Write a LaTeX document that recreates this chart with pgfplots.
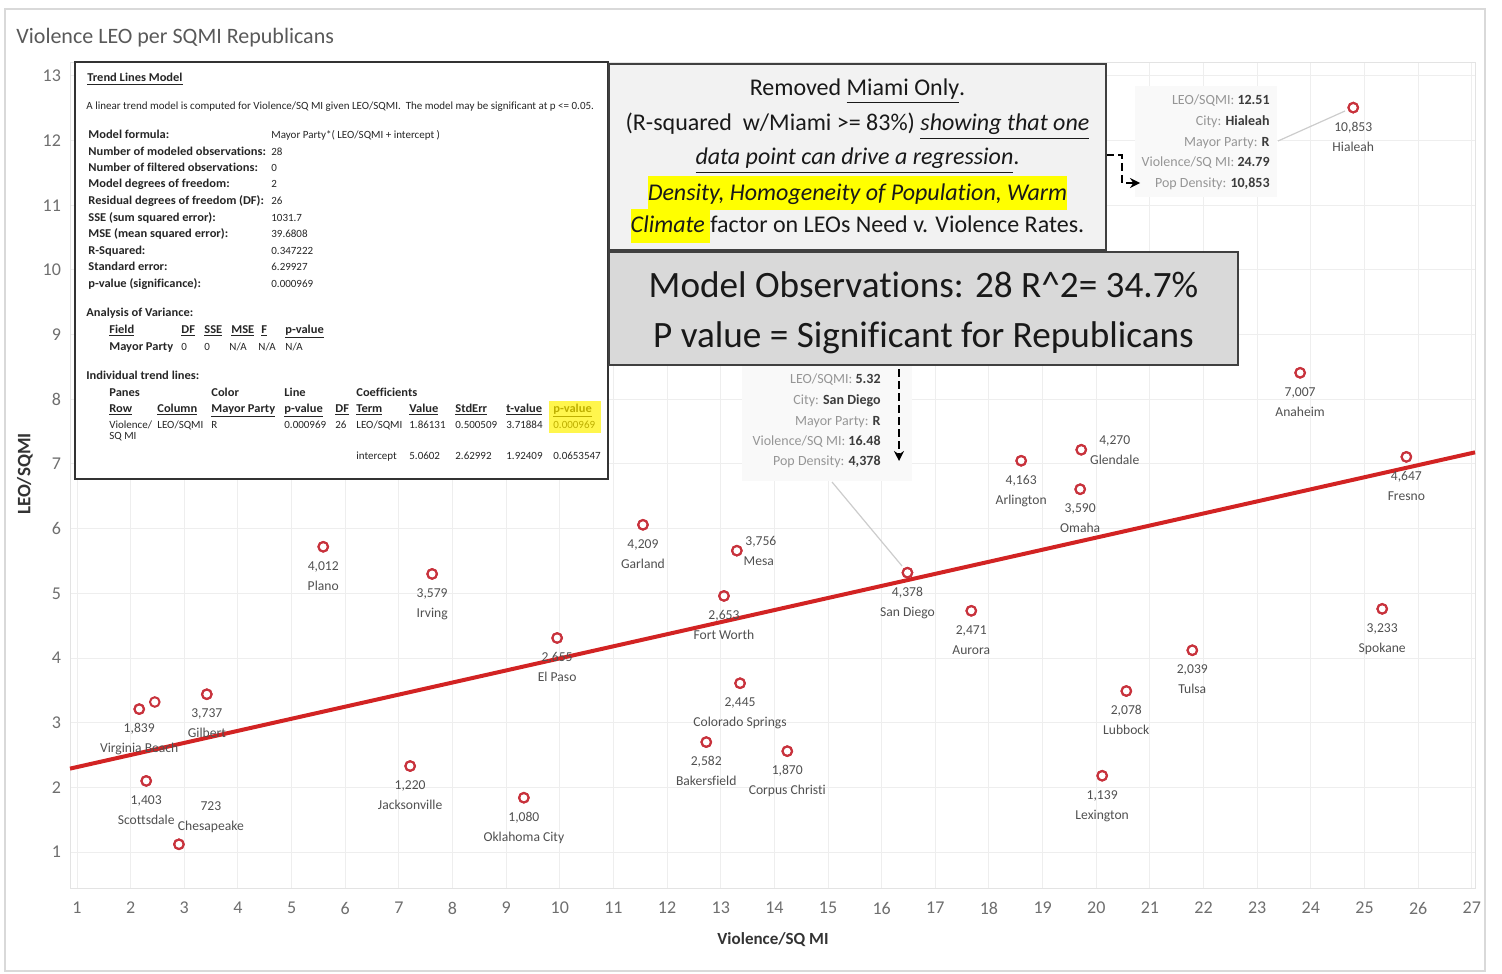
\documentclass[border=0pt]{standalone}
\usepackage{fontspec}
\setmainfont{Carlito}[Ligatures=NoCommon]
\usepackage{pgfplots}
\pgfplotsset{compat=1.18}
\usepackage{pgfplotstable}
\usetikzlibrary{arrows.meta}
\definecolor{ptred}{RGB}{200,50,60}
\definecolor{trend}{RGB}{210,35,35}
\definecolor{tickgray}{RGB}{110,110,110}
\definecolor{lblgray}{RGB}{80,80,80}
\definecolor{tipgray}{RGB}{150,150,150}
\definecolor{tipdark}{RGB}{60,60,60}
\definecolor{hl}{RGB}{255,255,0}
\definecolor{pvcol}{RGB}{190,175,0}
\definecolor{boxa}{RGB}{242,242,242}
\definecolor{boxb}{RGB}{217,217,217}
\newcommand\tbf{\fontsize{5.5}{6.5}\selectfont}
\newcommand{\T}[3]{\node[anchor=base west,inner sep=0pt,font=\tbf,text=black!85] at (#1,#2) {#3};}
\newcommand{\B}[1]{\scalebox{1.04}[1]{\fontsize{6}{7}\selectfont\bfseries #1}}
\newcommand{\tip}[4]{\node[anchor=base east,inner sep=0pt,font=\fontsize{7}{8}\selectfont] at (#1,#2) {\textcolor{tipgray}{#3} \textcolor{tipdark}{\textbf{#4}}};}

% cities labelled below the point
\pgfplotstableread{
x y dens city
24.79 12.51 10,853 Hialeah
16.48 5.32 4,378 {San Diego}
23.80 8.41 7,007 Anaheim
25.78 7.11 4,647 Fresno
18.60 7.05 4,163 Arlington
19.70 6.61 3,590 Omaha
11.55 6.06 4,209 Garland
5.59 5.72 4,012 Plano
7.62 5.30 3,579 Irving
13.06 4.96 2,653 {Fort Worth}
17.67 4.73 2,471 Aurora
9.95 4.31 2,655 {El Paso}
25.33 4.76 3,233 Spokane
21.79 4.12 2,039 Tulsa
20.56 3.49 2,078 Lubbock
13.36 3.61 2,445 {Colorado Springs}
12.73 2.70 2,582 Bakersfield
14.24 2.56 1,870 {Corpus Christi}
20.11 2.18 1,139 Lexington
9.33 1.84 1,080 {Oklahoma City}
7.21 2.33 1,220 Jacksonville
2.16 3.21 1,839 {Virginia Beach}
3.42 3.44 3,737 Gilbert
2.29 2.10 1,403 Scottsdale
}\belowdata
% labelled to the right
\pgfplotstableread{
x y dens city
19.72 7.22 4,270 Glendale
}\glendata
\pgfplotstableread{
x y dens city
13.30 5.66 3,756 Mesa
}\mesadata
% labelled above-right
\pgfplotstableread{
x y dens city
2.90 1.12 723 Chesapeake
}\chesdata
% unlabelled point
\pgfplotstableread{
x y
2.45 3.32
}\nolabdata

\pgfplotsset{
  citypts/.style={only marks, mark=o, mark size=2.4pt, mark options={line width=1pt, draw=ptred}},
  citylab/.style={only marks, mark=o, mark size=2.4pt, mark options={line width=1pt, draw=ptred},
    point meta=explicit symbolic, nodes near coords,
    every node near coord/.append style={anchor=base, inner sep=0pt, font=\fontsize{6.8}{8}\selectfont, text=lblgray}},
}

\begin{document}
\begin{tikzpicture}
\path[use as bounding box] (0pt,0pt) rectangle (751pt,-486.5pt);
\begin{axis}[
  at={(35pt,-444pt)}, anchor=south west,
  scale only axis, width=702.5pt, height=412.5pt,
  xmin=0.8695, xmax=27.06, ymin=0.444, ymax=13.2,
  xtick={1,...,27}, ytick={1,...,13},
  grid=major, major grid style={draw=gray!13, line width=0.5pt},
  axis line style={draw=gray!22, line width=0.5pt},
  major tick length=0pt,
  /pgf/number format/assume math mode=true,
  ticklabel style={font=\fontsize{9}{9}\selectfont, text=tickgray},
  xticklabel style={yshift=-3.5pt},
  yticklabel style={xshift=-1pt},
  clip=false,
]
\addplot[trend, line width=2pt] coordinates {(0.87,2.29) (27.06,7.18)};
% below-labelled
\addplot[citylab, every node near coord/.append style={yshift=-11.8pt}] table[x=x,y=y,meta=dens] {\belowdata};
\addplot[citylab, every node near coord/.append style={yshift=-21.8pt}] table[x=x,y=y,meta=city] {\belowdata};
% right-labelled
\addplot[citylab, every node near coord/.append style={xshift=16.75pt, yshift=2.7pt}] table[x=x,y=y,meta=dens] {\glendata};
\addplot[citylab, every node near coord/.append style={xshift=16.75pt, yshift=-7.3pt}] table[x=x,y=y,meta=city] {\glendata};
\addplot[citylab, every node near coord/.append style={xshift=12pt, yshift=2.7pt}] table[x=x,y=y,meta=dens] {\mesadata};
\addplot[citylab, every node near coord/.append style={xshift=11pt, yshift=-7.3pt}] table[x=x,y=y,meta=city] {\mesadata};
% above-right
\addplot[citylab, every node near coord/.append style={xshift=16pt, yshift=16.7pt}] table[x=x,y=y,meta=dens] {\chesdata};
\addplot[citylab, every node near coord/.append style={xshift=16pt, yshift=6.7pt}] table[x=x,y=y,meta=city] {\chesdata};
\addplot[citypts] table[x=x,y=y] {\nolabdata};
\end{axis}

\begin{scope}[x=0.5pt,y=-0.5pt]
\draw[gray!30, line width=0.6pt] (5,9) rectangle (1485,971);
\node[anchor=west, inner sep=0pt, text=black!65, font=\fontsize{11}{13}\selectfont] at (16,38) {Violence LEO per SQMI Republicans};
\node[rotate=90, text=black!80, font=\fontsize{9.5}{10}\selectfont\bfseries] at (25,474) {LEO/SQMI};
\node[text=black!80, font=\fontsize{8.5}{10}\selectfont\bfseries] at (773,940) {Violence/SQ MI};

% tooltips
\fill[gray!5] (1135,86) rectangle (1277,197);
\draw[gray!40, line width=0.6pt] (1278,141) -- (1345,111);
\tip{1270}{104.5}{LEO/SQMI:}{12.51}
\tip{1270}{125.5}{City:}{Hialeah}
\tip{1270}{146.5}{Mayor Party:}{R}
\tip{1270}{166.5}{Violence/SQ MI:}{24.79}
\tip{1270}{187.5}{Pop Density:}{10,853}
\fill[gray!5] (742,366) rectangle (912,481);
\draw[gray!40, line width=0.6pt] (832,482) -- (902,566);
\tip{881}{383.5}{LEO/SQMI:}{5.32}
\tip{881}{404.5}{City:}{San Diego}
\tip{881}{425.5}{Mayor Party:}{R}
\tip{881}{445.5}{Violence/SQ MI:}{16.48}
\tip{881}{465.5}{Pop Density:}{4,378}

% dashed arrows
\draw[black, line width=1.1pt, dash pattern=on 4pt off 2pt, -{Stealth[length=5pt,width=5pt]}] (1106,155) -- (1122,155) -- (1122,183) -- (1140,183);
\draw[black, line width=1.1pt, dash pattern=on 4pt off 2pt, -{Stealth[length=5pt,width=5pt]}] (899,369) -- (899,461);

% trend model box
\draw[fill=white, draw=black!80, line width=0.8pt] (75,62) rectangle (608,479);
\fill[yellow!70] (549,401) rectangle (601,433);
\node[anchor=base west,inner sep=0pt,text=black!85] at (87,82) {\B{\underline{Trend Lines Model}}};
\T{86}{110}{A linear trend model is computed for Violence/SQ MI given LEO/SQMI.\ \ The model may be significant at p <= 0.05.}
\T{88}{139}{\B{Model formula:}}\T{271}{139}{Mayor Party*( LEO/SQMI + intercept )}
\T{88}{156}{\B{Number of modeled observations:}}\T{271}{156}{28}
\T{88}{172}{\B{Number of filtered observations:}}\T{271}{172}{0}
\T{88}{188}{\B{Model degrees of freedom:}}\T{271}{188}{2}
\T{88}{205}{\B{Residual degrees of freedom (DF):}}\T{271}{205}{26}
\T{88}{221}{\B{SSE (sum squared error):}}\T{271}{221}{1031.7}
\T{88}{237}{\B{MSE (mean squared error):}}\T{271}{237}{39.6808}
\T{88}{254}{\B{R-Squared:}}\T{271}{254}{0.347222}
\T{88}{270}{\B{Standard error:}}\T{271}{270}{6.29927}
\T{88}{287}{\B{p-value (significance):}}\T{271}{287}{0.000969}
\T{86}{316}{\B{Analysis of Variance:}}
\T{109}{333}{\B{\underline{Field}}}\T{181}{333}{\B{\underline{DF}}}\T{204}{333}{\B{\underline{SSE}}}\T{231}{333}{\B{\underline{MSE}}}\T{261}{333}{\B{\underline{F}}}\T{285}{333}{\B{\underline{p-value}}}
\T{109}{350}{\B{Mayor Party}}\T{181}{350}{0}\T{204}{350}{0}\T{229}{350}{N/A}\T{258}{350}{N/A}\T{285}{350}{N/A}
\T{86}{379}{\B{Individual trend lines:}}
\T{109}{396}{\B{Panes}}\T{211}{396}{\B{Color}}\T{284}{396}{\B{Line}}\T{356}{396}{\B{Coefficients}}
\T{109}{412}{\B{\underline{Row}}}\T{157}{412}{\B{\underline{Column}}}\T{211}{412}{\B{\underline{Mayor Party}}}\T{284}{412}{\B{\underline{p-value}}}\T{335}{412}{\B{\underline{DF}}}\T{356}{412}{\B{\underline{Term}}}\T{409}{412}{\B{\underline{Value}}}\T{455}{412}{\B{\underline{StdErr}}}\T{506}{412}{\B{\underline{t-value}}}\T{553}{412}{\textcolor{pvcol}{\B{\underline{p-value}}}}
\T{109}{428}{Violence/}\T{157}{428}{LEO/SQMI}\T{211}{428}{R}\T{284}{428}{0.000969}\T{335}{428}{26}\T{356}{428}{LEO/SQMI}\T{409}{428}{1.86131}\T{455}{428}{0.500509}\T{506}{428}{3.71884}\T{553}{428}{\textcolor{pvcol}{0.000969}}
\T{109}{439}{SQ MI}
\T{356}{459}{intercept}\T{409}{459}{5.0602}\T{455}{459}{2.62992}\T{506}{459}{1.92409}\T{553}{459}{0.0653547}

% annotation box 1
\draw[fill=boxa, draw=black!75, line width=0.8pt] (609,64) rectangle (1106,250);
\begingroup
\setlength{\fboxsep}{0pt}
\node[anchor=base, inner sep=0pt, font=\fontsize{12}{17}\selectfont, text=black!90] at (857.5,96) {Removed \underline{Miami Only}.};
\node[anchor=base, inner sep=0pt, font=\fontsize{12}{17}\selectfont, text=black!90] at (857.5,131) {(R-squared\ \ w/Miami >= 83\%) \underline{\textit{showing that one}}};
\node[anchor=base, inner sep=0pt, font=\fontsize{12}{17}\selectfont, text=black!90] at (857.5,165) {\underline{\textit{data point can drive a regression}}.};
\node[anchor=base, inner sep=0pt, font=\fontsize{12}{17}\selectfont, text=black!90] at (857.5,200) {\colorbox{hl}{\strut\textit{Density, Homogeneity of Population, Warm}}};
\node[anchor=base, inner sep=0pt, font=\fontsize{12}{17}\selectfont, text=black!90] at (857.5,233) {\colorbox{hl}{\strut\textit{Climate }}factor on LEOs Need v. Violence Rates.};
\endgroup

% annotation box 2
\draw[fill=boxb, draw=black!75, line width=0.8pt] (609,252) rectangle (1238,365);
\node[anchor=base, inner sep=0pt, font=\fontsize{18.6}{22}\selectfont, text=black!90] at (923.5,297) {Model Observations: 28 R\textasciicircum 2= 34.7\%};
\node[anchor=base, inner sep=0pt, font=\fontsize{18.6}{22}\selectfont, text=black!90] at (923.5,347) {P value = Significant for Republicans};
\end{scope}
\end{tikzpicture}
\end{document}
